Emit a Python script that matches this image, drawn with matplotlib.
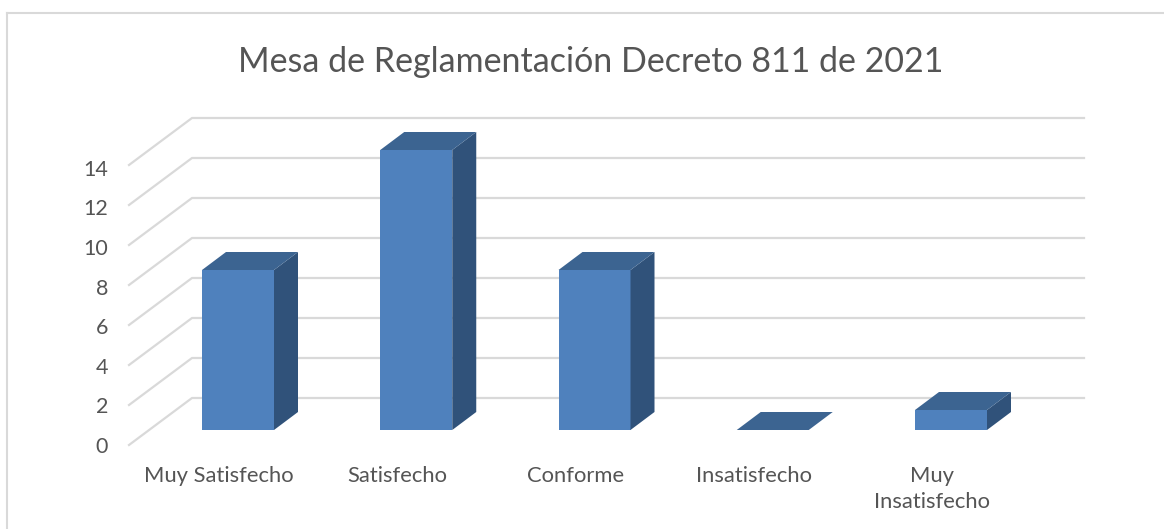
#!/usr/bin/env python3
"""Mesa de Reglamentacion chart, drawn as an oblique 3D column chart."""

import matplotlib
matplotlib.use("Agg")
import matplotlib.pyplot as plt
from matplotlib.lines import Line2D
from matplotlib.patches import Polygon

plt.rcParams['font.family'] = ['Lato', 'DejaVu Sans']

title = "Mesa de Reglamentación Decreto 811 de 2021"
categories = ["Muy Satisfecho", "Satisfecho", "Conforme", "Insatisfecho", "Muy\nInsatisfecho"]
values = [8, 14, 8, 0, 1]
y_ticks = [0, 2, 4, 6, 8, 10, 12, 14]

TEXT = "#555555"
GRID = "#d9d9d9"
FRONT = "#4f81bd"
TOP = "#3c6491"
SIDE = "#30527a"

# pixel scale of the chart: one category = 178.25 px, one unit = 20 px
W, H = 1164, 529
X0, Y0 = 238, 430
PX, PY = 178.25, 20.0

fig = plt.figure(figsize=(W / 100, H / 100), dpi=100)
ax = fig.add_axes([0, 0, 1, 1])
ax.set_xlim(-X0 / PX, (W - X0) / PX)
ax.set_ylim((Y0 - H) / PY, Y0 / PY)
ax.axis("off")

# oblique offsets
bar_w = 72 / PX
bar_dx, bar_dy = 24 / PX, 18 / PY
front_x, back_x, end_x = -109 / PX, -46 / PX, 846 / PX
front_y, back_y = -15 / PY, 32 / PY

for t in y_ticks:
    ax.plot([front_x, back_x, end_x], [t + front_y, t + back_y, t + back_y],
            color=GRID, lw=1.6, solid_joinstyle="miter", zorder=1)
    # labels sit a touch closer together than the grid in the original
    ax.text(-130 / PX, t * 0.99 + front_y - 0.1, str(t), ha="right", va="center",
            fontsize=15.5, color=TEXT)

for i, v in enumerate(values):
    l, r = i - bar_w / 2, i + bar_w / 2
    if v > 0:
        ax.add_patch(Polygon([(l, 0), (r, 0), (r, v), (l, v)], fc=FRONT, ec="none", zorder=3))
        ax.add_patch(Polygon([(r, 0), (r + bar_dx, bar_dy), (r + bar_dx, v + bar_dy), (r, v)],
                             fc=SIDE, ec="none", zorder=3))
    ax.add_patch(Polygon([(l, v), (r, v), (r + bar_dx, v + bar_dy), (l + bar_dx, v + bar_dy)],
                         fc=TOP, ec="none", zorder=3))

for i, c in enumerate(categories):
    ax.text(i - 19 / PX, -36 / PY, c, ha="center", va="top", fontsize=15.8,
            color=TEXT, linespacing=1.4, clip_on=False)

fig.text(591 / W, 1 - 62 / H, title, ha="center", va="center", fontsize=24.5, color=TEXT)

# chart frame, only the top and left edges are in the crop
fig.add_artist(Line2D([7 / W, 7 / W], [0, 1 - 13 / H], color=GRID, lw=1.5))
fig.add_artist(Line2D([7 / W, 1], [1 - 13 / H, 1 - 13 / H], color=GRID, lw=1.5))

fig.savefig("out.png", dpi=100)
